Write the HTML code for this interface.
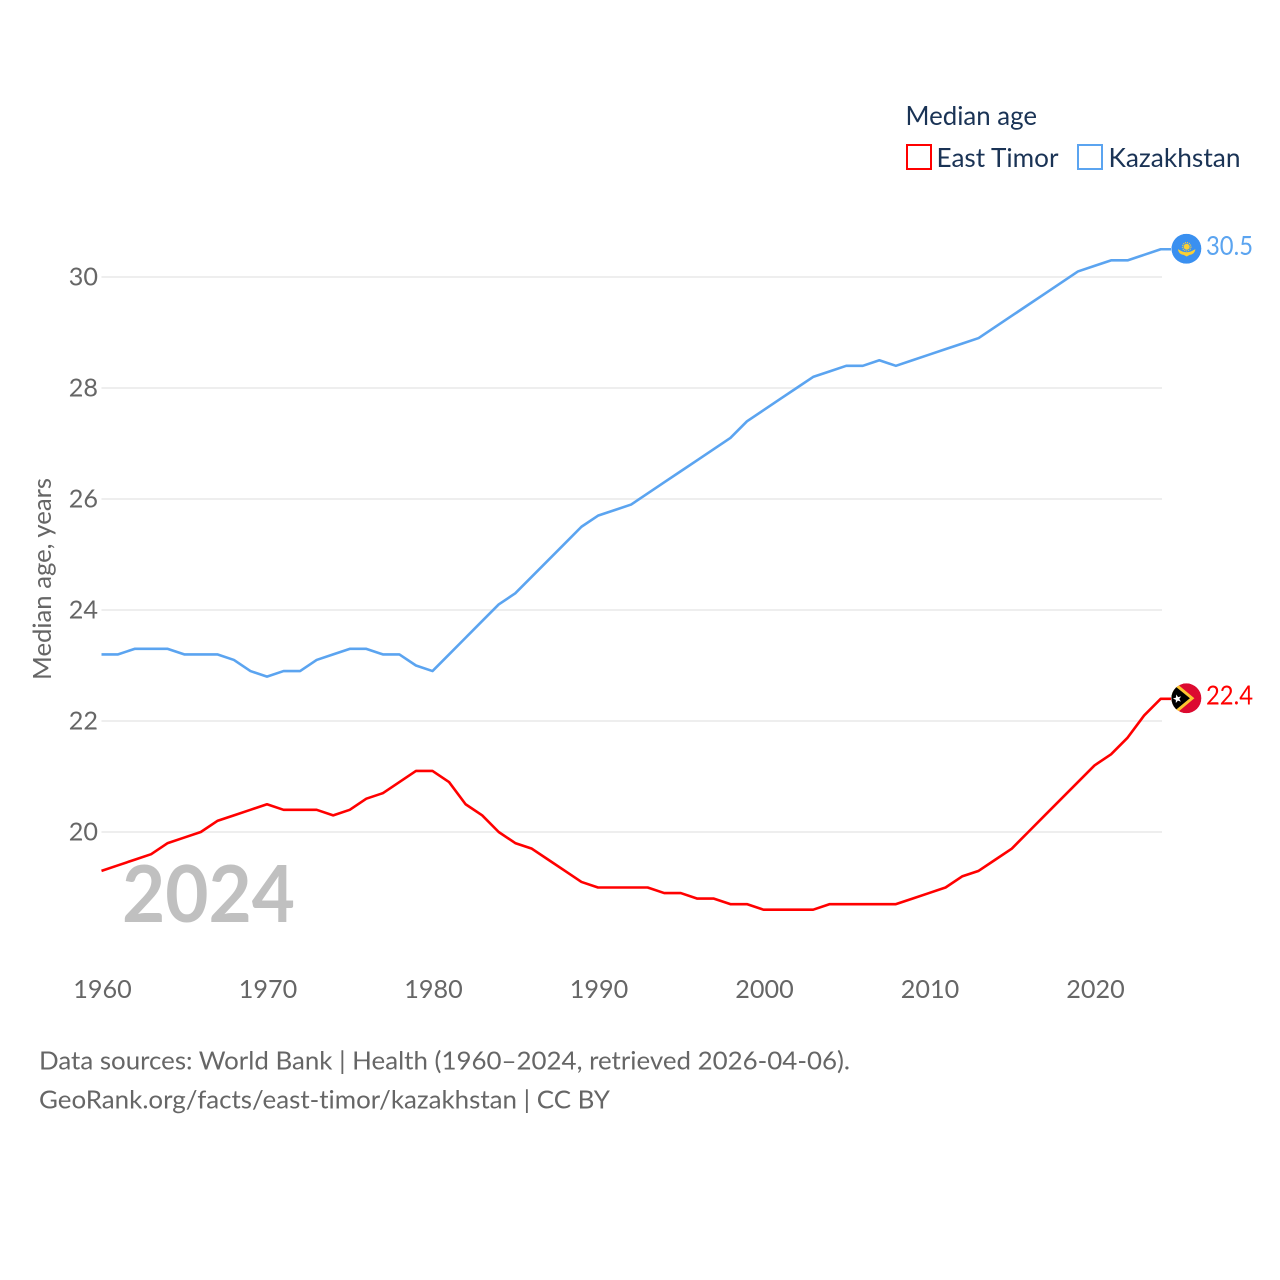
<!DOCTYPE html>
<html lang="en">
<head>
<meta charset="utf-8">
<title>Median age: East Timor and Kazakhstan</title>
<style>
html,body{margin:0;padding:0;background:#fff}
svg{display:block}
text{font-family:"Lato","Carlito","Liberation Sans",sans-serif;font-variant-ligatures:none}
</style>
</head>
<body>
<svg id="chart" xmlns="http://www.w3.org/2000/svg" width="1280" height="1280" viewBox="0 0 1280 1280">
  <defs>
    <clipPath id="flag-clip-kz"><circle cx="0" cy="0" r="15"/></clipPath>
    <clipPath id="flag-clip-tl"><circle cx="0" cy="0" r="15"/></clipPath>
  </defs>
  <rect width="1280" height="1280" fill="#fff"/>
  <g id="grid"></g>
  <g id="y-ticks"></g>
  <g id="x-ticks"></g>
  <text transform="translate(51 579) rotate(-90)" text-anchor="middle" font-size="25.5" fill="#666" textLength="202" lengthAdjust="spacingAndGlyphs">Median age, years</text>
  <text x="122" y="922" font-size="79" font-weight="700" fill="#c0c0c0" textLength="173" lengthAdjust="spacingAndGlyphs">2024</text>
  <g id="series"></g>

  <g id="flag-kz">
    <g clip-path="url(#flag-clip-kz)">
      <circle r="15" fill="#3a90f0"/>
      <circle cx="0.300" cy="-2" r="3" fill="#fbd033"/>
      <circle cx="0.300" cy="-2" r="4.200" fill="none" stroke="#fbd033" stroke-width="1.200" stroke-dasharray="1 1"/>
      <path d="M-8.500,0.500 C-6,1.500 -4,3.500 0.300,3.500 C4.500,3.500 6.500,1.500 9,0.500 C8.500,4 6,6 3.500,6 L0.300,7.800 L-3,6 C-5.500,6 -8,4 -8.500,0.500 Z" fill="#fbd033"/>
    </g>
  </g>
  <g id="flag-tl">
    <g clip-path="url(#flag-clip-tl)">
      <circle r="15" fill="#dc0a30"/>
      <path d="M-16,-20 L8,0 L-16,20 Z" fill="#fbc531"/>
      <path d="M-16,-16 L3.500,0 L-16,16 Z" fill="#000"/>
      <path transform="translate(-9 0.500) rotate(-15)" d="M0,-4.500 L1.100,-1.500 L4.300,-1.400 L1.800,0.600 L2.600,3.600 L0,1.900 L-2.600,3.600 L-1.800,0.600 L-4.300,-1.400 L-1.100,-1.500 Z" fill="#fff"/>
    </g>
  </g>
  <text id="value-kz" x="1206" font-size="26" fill="#5ba4f0" textLength="47" lengthAdjust="spacingAndGlyphs"></text>
  <text id="value-tl" x="1206" font-size="26" fill="#ff0000" textLength="47" lengthAdjust="spacingAndGlyphs"></text>

  <g>
    <text x="905.500" y="125" font-size="26" fill="#1a3355" textLength="131.500" lengthAdjust="spacingAndGlyphs">Median age</text>
    <g>
      <rect x="907" y="145" width="24" height="24" fill="#fff" stroke="#ff0000" stroke-width="2"/>
      <text x="936.500" y="167" font-size="26" fill="#1a3355" textLength="122" lengthAdjust="spacingAndGlyphs">East Timor</text>
    </g>
    <g>
      <rect x="1078" y="145" width="24" height="24" fill="#fff" stroke="#5ba4f0" stroke-width="2"/>
      <text x="1108.500" y="167" font-size="26" fill="#1a3355" textLength="132" lengthAdjust="spacingAndGlyphs">Kazakhstan</text>
    </g>
  </g>

  <text x="39" y="1069.500" font-size="25.500" fill="#666" textLength="811" lengthAdjust="spacingAndGlyphs">Data sources: World Bank | Health (1960–2024, retrieved 2026-04-06).</text>
  <text x="39" y="1108.500" font-size="25.500" fill="#666" textLength="571" lengthAdjust="spacingAndGlyphs">GeoRank.org/facts/east-timor/kazakhstan | CC BY</text>
</svg>
<script>
const startYear = 1960;
const xTickYears = [1960, 1970, 1980, 1990, 2000, 2010, 2020];
const yTickValues = [20, 22, 24, 26, 28, 30];
const kazakhstanValues = [23.2,23.2,23.3,23.3,23.3,23.2,23.2,23.2,23.1,22.9,22.8,22.9,22.9,23.1,23.2,23.3,23.3,23.2,23.2,23.0,22.9,23.2,23.5,23.8,24.1,24.3,24.6,24.9,25.2,25.5,25.7,25.8,25.9,26.1,26.3,26.5,26.7,26.9,27.1,27.4,27.6,27.8,28.0,28.2,28.3,28.4,28.4,28.5,28.4,28.5,28.6,28.7,28.8,28.9,29.1,29.3,29.5,29.7,29.9,30.1,30.2,30.3,30.3,30.4,30.5];
const eastTimorValues = [19.3,19.4,19.5,19.6,19.8,19.9,20.0,20.2,20.3,20.4,20.5,20.4,20.4,20.4,20.3,20.4,20.6,20.7,20.9,21.1,21.1,20.9,20.5,20.3,20.0,19.8,19.7,19.5,19.3,19.1,19.0,19.0,19.0,19.0,18.9,18.9,18.8,18.8,18.7,18.7,18.6,18.6,18.6,18.6,18.7,18.7,18.7,18.7,18.7,18.8,18.9,19.0,19.2,19.3,19.5,19.7,20.0,20.3,20.6,20.9,21.2,21.4,21.7,22.1,22.4];

const NS = 'http://www.w3.org/2000/svg';
const xScale = year => 101.5 + (year - 1960) * 16.55;
const yScale = value => 832 - (value - 20) * 55.5;

function make(tag, attrs, parent) {
  const el = document.createElementNS(NS, tag);
  for (const k in attrs) el.setAttribute(k, attrs[k]);
  parent.appendChild(el);
  return el;
}

const gridGroup = document.getElementById('grid');
const yTickGroup = document.getElementById('y-ticks');
yTickValues.forEach(v => {
  const line = make('line', {x1: 101.5, x2: 1162, y1: yScale(v), y2: yScale(v), stroke: '#eeeeee', 'stroke-width': 2}, gridGroup);
  
  
  const label = make('text', {x: 98, y: yScale(v) + 8.5, 'text-anchor': 'end', 'font-size': 25.2, fill: '#666'}, yTickGroup);
  
  
  label.textContent = v;
});

const xTickGroup = document.getElementById('x-ticks');
xTickYears.forEach(y => {
  const label = make('text', {x: xScale(y) + 1, y: 998, 'text-anchor': 'middle', 'font-size': 25.2, fill: '#666'}, xTickGroup);
  
  
  label.textContent = y;
});

const seriesGroup = document.getElementById('series');
function drawSeries(values, color, name) {
  const pts = values.map((v, i) => xScale(startYear + i).toFixed(2) + ',' + yScale(v).toFixed(2));
  const lastY = yScale(values[values.length - 1]).toFixed(2);
  pts.push('1171,' + lastY);
  const line = make('polyline', {points: pts.join(' '), fill: 'none', stroke: color, 'stroke-width': 2.6, 'stroke-linejoin': 'round'}, seriesGroup);
  
  
}
drawSeries(eastTimorValues, '#ff0000', 'east-timor-line');
drawSeries(kazakhstanValues, '#5ba4f0', 'kazakhstan-line');

const lastKz = kazakhstanValues[kazakhstanValues.length - 1];
const lastTl = eastTimorValues[eastTimorValues.length - 1];
document.getElementById('flag-kz').setAttribute('transform', 'translate(1186.4 ' + (yScale(lastKz) - 0.5) + ')');
document.getElementById('flag-tl').setAttribute('transform', 'translate(1186.4 ' + (yScale(lastTl) - 0.5) + ')');
const kzLabel = document.getElementById('value-kz');
kzLabel.setAttribute('y', yScale(lastKz) + 5.5);
kzLabel.textContent = lastKz.toFixed(1);
const tlLabel = document.getElementById('value-tl');
tlLabel.setAttribute('y', yScale(lastTl) + 5.5);
tlLabel.textContent = lastTl.toFixed(1);
</script>
</body>
</html>
